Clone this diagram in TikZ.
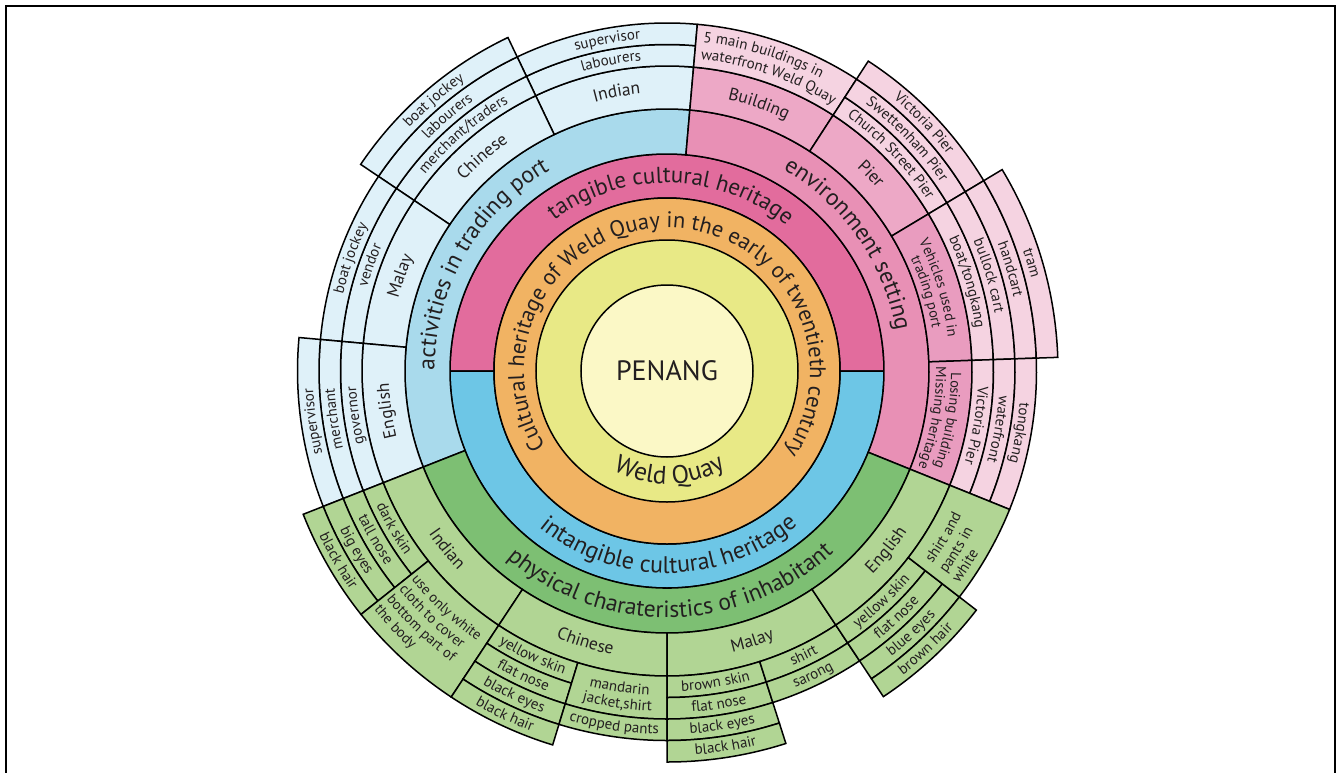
\documentclass[tikz,border=0pt]{standalone}
\usepackage{fontspec}
\setmainfont{PT Sans}
\usetikzlibrary{decorations.text}
\definecolor{cPen}{HTML}{FBF8C6}
\definecolor{cYel}{HTML}{E8E986}
\definecolor{cOra}{HTML}{F1B363}
\definecolor{cTan}{HTML}{E26C9D}
\definecolor{cInt}{HTML}{6DC6E6}
\definecolor{cAct}{HTML}{A9DAEC}
\definecolor{cLB}{HTML}{DFF1F9}
\definecolor{cEnv}{HTML}{E890B5}
\definecolor{cPkA}{HTML}{EDA8C6}
\definecolor{cPkB}{HTML}{E99CBF}
\definecolor{cPkL}{HTML}{F5D3E1}
\definecolor{cPhy}{HTML}{7DBF73}
\definecolor{cGr}{HTML}{B1D594}
\definecolor{cTxt}{HTML}{231F20}
% annular wedge: a1 a2 r1 r2 colour
\newcommand{\wdg}[5]{\filldraw[fill=#5] (#1:#3pt) arc[start angle=#1,end angle=#2,radius=#3pt] -- (#2:#4pt) arc[start angle=#2,end angle=#1,radius=#4pt] -- cycle;}
% label, tops outward (clockwise path), centred at angle #1
\newcommand{\ltop}[4]{\path[decorate,decoration={text along path,text align=center,text color=cTxt,text={|\fontsize{#3}{#3}\selectfont|#4}}] (#1+170:#2pt) arc[start angle=#1+170,end angle=#1-170,radius=#2pt];}
% label, tops inward (counter-clockwise path), centred at angle #1
\newcommand{\lbot}[4]{\path[decorate,decoration={text along path,text align=center,text color=cTxt,text={|\fontsize{#3}{#3}\selectfont|#4}}] (#1-170:#2pt) arc[start angle=#1-170,end angle=#1+170,radius=#2pt];}
% label, tops inward, starting at angle #1
\newcommand{\lbotl}[4]{\path[decorate,decoration={text along path,text align=left,text color=cTxt,text={|\fontsize{#3}{#3}\selectfont|#4}}] (#1:#2pt) arc[start angle=#1,end angle=#1+100,radius=#2pt];}
\begin{document}
\begin{tikzpicture}[x=1pt,y=1pt,line width=1.5pt,line join=miter]
\useasboundingbox (-667,-401) rectangle (671,371);
\draw[line width=2.2pt] (-661,-405) -- (-661,365) -- (668,365) -- (668,-405);
% ---- rings
\wdg{0}{180}{173}{217}{cTan}
\wdg{180}{360}{173}{217}{cInt}
\filldraw[fill=cOra] (0,0) circle[radius=173pt];
\filldraw[fill=cYel] (0,0) circle[radius=131pt];
\filldraw[fill=cPen] (0,0) circle[radius=86pt];
\wdg{85}{201.5}{217}{262}{cAct}
\wdg{-22}{85}{217}{262}{cEnv}
\wdg{201.5}{338}{217}{262}{cPhy}
% ---- activities
\wdg{85}{115.5}{262}{305}{cLB}\wdg{85}{115.5}{305}{326.5}{cLB}\wdg{85}{115.5}{326.5}{348}{cLB}
\wdg{115.5}{146}{262}{305}{cLB}\wdg{115.5}{146}{305}{326.5}{cLB}\wdg{115.5}{146}{326.5}{348}{cLB}\wdg{115.5}{146}{348}{369.5}{cLB}
\wdg{146}{174.8}{262}{305}{cLB}\wdg{146}{174.8}{305}{326.5}{cLB}\wdg{146}{174.8}{326.5}{348}{cLB}
\wdg{174.8}{201.5}{262}{305}{cLB}\wdg{174.8}{201.5}{305}{326.5}{cLB}\wdg{174.8}{201.5}{326.5}{348}{cLB}\wdg{174.8}{201.5}{348}{369.5}{cLB}
% ---- environment
\wdg{57}{85}{262}{305}{cPkA}\wdg{57}{85}{305}{348}{cPkL}
\wdg{31}{57}{262}{305}{cPkA}\wdg{31}{57}{305}{326.5}{cPkL}\wdg{31}{57}{326.5}{348}{cPkL}\wdg{31}{57}{348}{369.5}{cPkL}
\wdg{2}{31}{262}{305}{cPkB}\wdg{2}{31}{305}{326.5}{cPkL}\wdg{2}{31}{326.5}{348}{cPkL}\wdg{2}{31}{348}{369.5}{cPkL}\wdg{2}{31}{369.5}{391}{cPkL}
\wdg{-22}{2}{262}{305}{cPkB}\wdg{-22}{2}{305}{326.5}{cPkL}\wdg{-22}{2}{326.5}{348}{cPkL}\wdg{-22}{2}{348}{369.5}{cPkL}
% ---- physical
\wdg{201.5}{236.5}{262}{305}{cGr}
\wdg{201.5}{218.5}{305}{326.5}{cGr}\wdg{201.5}{218.5}{326.5}{348}{cGr}\wdg{201.5}{218.5}{348}{369.5}{cGr}\wdg{201.5}{218.5}{369.5}{391}{cGr}
\wdg{218.5}{236.5}{305}{391}{cGr}
\wdg{236.5}{270}{262}{305}{cGr}
\wdg{236.5}{253}{305}{326.5}{cGr}\wdg{236.5}{253}{326.5}{348}{cGr}\wdg{236.5}{253}{348}{369.5}{cGr}\wdg{236.5}{253}{369.5}{391}{cGr}
\wdg{253}{270}{305}{348}{cGr}\wdg{253}{270}{348}{369.5}{cGr}
\wdg{270}{303.6}{262}{305}{cGr}
\wdg{270}{287.7}{305}{326.5}{cGr}\wdg{270}{287.7}{326.5}{348}{cGr}\wdg{270}{287.7}{348}{369.5}{cGr}\wdg{270}{287.7}{369.5}{391}{cGr}
\wdg{287.7}{303.6}{305}{326.5}{cGr}\wdg{287.7}{303.6}{326.5}{348}{cGr}
\wdg{303.6}{338}{262}{305}{cGr}
\wdg{303.6}{322.3}{305}{326.5}{cGr}\wdg{303.6}{322.3}{326.5}{348}{cGr}\wdg{303.6}{322.3}{348}{369.5}{cGr}\wdg{303.6}{322.3}{369.5}{391}{cGr}
\wdg{322.3}{338}{305}{369.5}{cGr}
% ---- centre texts
\node[text=cTxt,font=\fontsize{28}{28}\selectfont] (penang) at (0,0) {PENANG};
\lbot{271.4}{113}{25.5}{Weld Quay}
\ltop{88.75}{143}{22.5}{Cultural heritage of Weld Quay in the early of twentieth century}
\ltop{88.7}{188}{23}{tangible cultural heritage}
\lbot{270.5}{202}{24}{intangible cultural heritage}
\ltop{150}{232.5}{23.5}{activities in trading port}
\ltop{35}{232.5}{23.5}{environment setting}
\lbot{271}{246.5}{23.5}{physical charateristics of inhabitant}
% ---- level 5
\ltop{100.25}{278.3}{17.5}{Indian}
\ltop{130.75}{278.3}{17.5}{Chinese}
\ltop{160.4}{278.3}{17.5}{Malay}
\ltop{188.15}{278.3}{17.5}{English}
\ltop{71}{278.3}{17.5}{Building}
\ltop{44}{278.3}{17.5}{Pier}
\ltop{17}{283}{14.5}{Vehicles used in}
\ltop{17}{268.5}{14.5}{trading port}
\ltop{-10}{284}{14.5}{Losing building}
\ltop{-10}{269}{14.5}{Missing heritage}
\lbot{219}{288.7}{17.5}{Indian}
\lbot{253.25}{288.7}{17.5}{Chinese}
\lbot{287.5}{288.7}{17.5}{Malay}
\lbot{320.8}{288.7}{17.5}{English}
% ---- activities outer
\ltop{100.25}{311.25}{15}{labourers}
\ltop{100.25}{332.75}{15}{supervisor}
\ltop{130.75}{311.25}{15}{merchant/traders}
\ltop{130.75}{332.75}{15}{labourers}
\ltop{130.75}{354.25}{15}{boat jockey}
\ltop{160.4}{311.25}{15}{vendor}
\ltop{160.4}{332.75}{15}{boat jockey}
\ltop{188.15}{311.25}{15}{governor}
\ltop{188.15}{332.75}{15}{merchant}
\ltop{188.15}{354.25}{15}{supervisor}
% ---- environment outer
\ltop{73}{330.5}{15}{5 main buildings in}
\ltop{71}{313.5}{15}{waterfront Weld Quay}
\ltop{44}{311.25}{15}{Church Street Pier}
\ltop{44}{332.75}{15}{Swettenham Pier}
\ltop{44}{354.25}{15}{Victoria Pier}
\ltop{16.5}{311.25}{15}{boat/tongkang}
\ltop{16.5}{332.75}{15}{bullock cart}
\ltop{16.5}{354.25}{15}{handcart}
\ltop{16.5}{375.75}{15}{tram}
\ltop{-10}{311.25}{15}{Victoria Pier}
\ltop{-10}{332.75}{15}{waterfront}
\ltop{-10}{354.25}{15}{tongkang}
% ---- physical outer
\lbot{210}{320.25}{15}{dark skin}
\lbot{210}{341.75}{15}{tall nose}
\lbot{210}{363.25}{15}{big eyes}
\lbot{210}{384.75}{15}{black hair}
\lbotl{219.2}{330}{14.5}{use only white}
\lbotl{219.2}{346}{14.5}{cloth to cover}
\lbotl{219.2}{362}{14.5}{bottom part of}
\lbotl{219.2}{378}{14.5}{the body}
\lbot{244.75}{320.25}{15}{yellow skin}
\lbot{244.75}{341.75}{15}{flat nose}
\lbot{244.75}{363.25}{15}{black eyes}
\lbot{244.75}{384.75}{15}{black hair}
\lbot{261.5}{324.5}{15}{mandarin}
\lbot{261.5}{340.5}{15}{jacket,shirt}
\lbot{261.5}{363.25}{15}{cropped pants}
\lbot{278.85}{320.25}{15}{brown skin}
\lbot{278.85}{341.75}{15}{flat nose}
\lbot{278.85}{363.25}{15}{black eyes}
\lbot{278.85}{384.75}{15}{black hair}
\lbot{295.65}{320.25}{15}{shirt}
\lbot{295.65}{341.75}{15}{sarong}
\lbot{312.95}{320.25}{15}{yellow skin}
\lbot{312.95}{341.75}{15}{flat nose}
\lbot{312.95}{363.25}{15}{blue eyes}
\lbot{312.95}{384.75}{15}{brown hair}
\lbotl{324}{328}{15}{shirt and}
\lbotl{324}{345}{15}{pants in}
\lbotl{324}{361}{15}{white}
\end{tikzpicture}
\end{document}
